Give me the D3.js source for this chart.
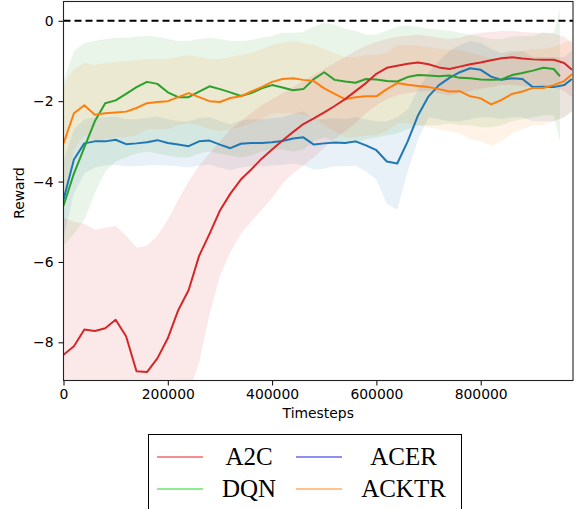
<!DOCTYPE html>
<html>
<head>
<meta charset="utf-8">
<script src="https://cdn.jsdelivr.net/npm/d3@7"></script>
<style>
  body { margin: 0; background: #fff; }
  svg { display: block; }
  .tick text { font-family: "DejaVu Sans", sans-serif; font-size: 13.9px; fill: #000; }
  .tick line { stroke: #000; stroke-width: 1; }
</style>
</head>
<body>
<div id="chart"></div>
<script>
// timesteps shared by A2C, ACER, ACKTR
const timesteps = [0, 20000, 40000, 60000, 80000, 100000, 120000, 140000, 160000, 180000,
  200000, 220000, 240000, 260000, 280000, 300000, 320000, 340000, 360000, 380000,
  400000, 420000, 440000, 460000, 480000, 500000, 520000, 540000, 560000, 580000,
  600000, 620000, 640000, 660000, 680000, 700000, 720000, 740000, 760000, 780000,
  800000, 820000, 840000, 860000, 880000, 900000, 920000, 940000, 960000, 975000];
// DQN stops a little earlier
const dqnSteps = [0, 20000, 40000, 60000, 80000, 100000, 120000, 140000, 160000, 180000,
  200000, 220000, 240000, 260000, 280000, 300000, 320000, 340000, 360000, 380000,
  400000, 420000, 440000, 460000, 480000, 500000, 520000, 540000, 560000, 580000,
  600000, 620000, 640000, 660000, 680000, 700000, 720000, 740000, 760000, 780000,
  800000, 820000, 840000, 860000, 880000, 900000, 920000, 940000, 952000];

const a2cMean = [-8.31, -8.1, -7.68, -7.72, -7.65, -7.44, -7.85, -8.72, -8.74, -8.4,
  -7.9, -7.2, -6.7, -5.85, -5.3, -4.72, -4.3, -3.95, -3.7, -3.43,
  -3.2, -2.98, -2.77, -2.57, -2.43, -2.28, -2.12, -1.95, -1.75, -1.55,
  -1.32, -1.17, -1.12, -1.07, -1.04, -1.08, -1.16, -1.2, -1.14, -1.08,
  -1.04, -0.98, -0.93, -0.91, -0.94, -0.96, -0.97, -0.97, -1.05, -1.22];
const a2cLow = [-9.5, -9.5, -9.5, -9.5, -9.5, -9.5, -9.5, -9.5, -9.5, -9.5,
  -9.5, -9.5, -9.3, -8.5, -7.3, -6.35, -5.75, -5.3, -5.0, -4.7,
  -4.4, -4.05, -3.8, -3.6, -3.4, -3.15, -2.95, -2.75, -2.55, -2.3,
  -2.1, -1.95, -1.85, -1.8, -1.75, -1.75, -1.8, -1.85, -1.8, -1.75,
  -1.7, -1.65, -1.6, -1.6, -1.62, -1.65, -1.65, -1.65, -1.75, -1.9];
const a2cHigh = [-4.9, -5.0, -5.05, -5.2, -5.15, -5.1, -5.35, -5.65, -5.6, -5.35,
  -4.95, -4.45, -4.0, -3.6, -3.3, -3.0, -2.7, -2.5, -2.3, -2.1,
  -1.95, -1.8, -1.65, -1.5, -1.35, -1.2, -1.05, -0.9, -0.75, -0.62,
  -0.52, -0.45, -0.4, -0.38, -0.35, -0.38, -0.42, -0.45, -0.42, -0.35,
  -0.3, -0.28, -0.25, -0.25, -0.28, -0.3, -0.3, -0.32, -0.4, -0.55];

const acerMean = [-4.45, -3.45, -3.05, -3.0, -3.0, -2.96, -3.07, -3.05, -3.02, -2.97,
  -3.04, -3.08, -3.12, -3.0, -2.98, -3.08, -3.17, -3.06, -3.04, -3.04,
  -3.02, -2.99, -2.93, -2.9, -3.08, -3.05, -3.03, -3.04, -3.0, -3.1,
  -3.22, -3.5, -3.55, -3.0, -2.35, -1.88, -1.6, -1.42, -1.28, -1.18,
  -1.22, -1.39, -1.47, -1.43, -1.45, -1.65, -1.64, -1.65, -1.6, -1.45];
const acerLow = [-5.4, -4.3, -3.8, -3.65, -3.6, -3.58, -3.62, -3.62, -3.6, -3.58,
  -3.6, -3.62, -3.65, -3.6, -3.58, -3.65, -3.72, -3.65, -3.62, -3.62,
  -3.6, -3.58, -3.55, -3.6, -3.7, -3.68, -3.62, -3.62, -3.6, -3.75,
  -3.95, -4.55, -4.7, -3.75, -2.95, -2.4, -2.45, -2.5, -2.5, -2.45,
  -2.4, -2.4, -2.45, -2.4, -2.4, -2.5, -2.5, -2.5, -2.4, -2.25];
const acerHigh = [-3.5, -2.7, -2.45, -2.4, -2.4, -2.38, -2.45, -2.45, -2.42, -2.38,
  -2.45, -2.5, -2.5, -2.42, -2.4, -2.5, -2.58, -2.48, -2.45, -2.45,
  -2.42, -2.4, -2.32, -2.25, -2.45, -2.45, -2.42, -2.45, -2.4, -2.45,
  -2.5, -2.5, -2.4, -2.2, -1.7, -1.3, -1.0, -0.75, -0.6, -0.5,
  -0.55, -0.7, -0.8, -0.75, -0.75, -0.9, -0.9, -0.9, -0.9, -0.75];

const dqnMean = [-4.6, -3.8, -3.15, -2.5, -2.05, -1.98, -1.82, -1.65, -1.52, -1.57,
  -1.78, -1.9, -1.9, -1.76, -1.63, -1.7, -1.78, -1.87, -1.8, -1.68,
  -1.6, -1.66, -1.73, -1.7, -1.45, -1.28, -1.47, -1.51, -1.54, -1.45,
  -1.46, -1.5, -1.51, -1.4, -1.35, -1.36, -1.38, -1.36, -1.42, -1.43,
  -1.46, -1.47, -1.46, -1.35, -1.3, -1.24, -1.17, -1.2, -1.38];
const dqnLow = [-5.6, -5.3, -4.95, -4.3, -3.75, -3.5, -3.4, -3.3, -3.25, -3.3,
  -3.35, -3.4, -3.4, -3.3, -3.25, -3.3, -3.35, -3.4, -3.35, -3.25,
  -3.2, -3.2, -3.25, -3.2, -3.0, -2.9, -3.0, -3.05, -3.05, -2.95,
  -2.9, -2.85, -2.8, -2.7, -2.6, -2.6, -2.6, -2.55, -2.6, -2.6,
  -2.65, -2.65, -2.6, -2.5, -2.45, -2.4, -2.35, -2.35, -3.0];
const dqnHigh = [-1.5, -0.75, -0.55, -0.5, -0.45, -0.42, -0.42, -0.4, -0.38, -0.4,
  -0.45, -0.5, -0.5, -0.45, -0.42, -0.45, -0.5, -0.5, -0.48, -0.42,
  -0.38, -0.3, -0.3, -0.28, -0.15, -0.05, -0.1, -0.2, -0.25, -0.35,
  -0.35, -0.25, -0.15, -0.12, -0.15, -0.2, -0.22, -0.25, -0.3, -0.35,
  -0.4, -0.45, -0.45, -0.4, -0.38, -0.38, -0.3, -0.3, 0.3];

const acktrMean = [-3.05, -2.3, -2.1, -2.34, -2.3, -2.28, -2.26, -2.17, -2.05, -2.02,
  -2.0, -1.9, -1.8, -1.9, -2.0, -2.02, -1.92, -1.88, -1.76, -1.65,
  -1.52, -1.45, -1.43, -1.47, -1.5, -1.68, -1.82, -1.95, -1.9, -1.88,
  -1.88, -1.7, -1.55, -1.59, -1.62, -1.65, -1.7, -1.76, -1.75, -1.88,
  -1.93, -2.08, -1.97, -1.82, -1.76, -1.67, -1.67, -1.6, -1.5, -1.33];
const acktrLow = [-4.55, -3.2, -2.85, -3.0, -2.95, -2.9, -2.9, -2.85, -2.7, -2.7,
  -2.7, -2.6, -2.55, -2.6, -2.7, -2.75, -2.7, -2.65, -2.55, -2.45,
  -2.3, -2.3, -2.3, -2.35, -2.4, -2.6, -2.75, -2.9, -2.9, -2.85,
  -2.85, -2.75, -2.55, -2.55, -2.6, -2.65, -2.7, -2.75, -2.8, -2.95,
  -3.0, -3.1, -3.0, -2.8, -2.7, -2.6, -2.6, -2.5, -2.4, -2.25];
const acktrHigh = [-1.6, -1.2, -1.05, -1.1, -1.05, -1.02, -1.0, -0.98, -0.95, -0.95,
  -0.95, -0.9, -0.85, -0.9, -0.95, -0.95, -0.9, -0.85, -0.8, -0.7,
  -0.6, -0.55, -0.5, -0.55, -0.6, -0.7, -0.8, -0.9, -0.9, -0.85,
  -0.85, -0.8, -0.6, -0.6, -0.62, -0.65, -0.7, -0.72, -0.72, -0.8,
  -0.85, -0.95, -0.9, -0.8, -0.75, -0.7, -0.7, -0.65, -0.55, -0.45];

const xTicks = [0, 200000, 400000, 600000, 800000];
const yTicks = [0, -2, -4, -6, -8];
const legendNames = ["A2C", "ACER", "DQN", "ACKTR"];

// series table built from the arrays above (drawn back to front)
const series = [
  { name: "ACER", steps: timesteps, mean: acerMean, low: acerLow, high: acerHigh, color: "#1f77b4" },
  { name: "DQN", steps: dqnSteps, mean: dqnMean, low: dqnLow, high: dqnHigh, color: "#2ca02c" },
  { name: "ACKTR", steps: timesteps, mean: acktrMean, low: acktrLow, high: acktrHigh, color: "#ff7f0e" },
  { name: "A2C", steps: timesteps, mean: a2cMean, low: a2cLow, high: a2cHigh, color: "#d62728" }
];
const legendColors = { A2C: "#f26a6a", ACER: "#6868f2", DQN: "#6ae66a", ACKTR: "#ffae66" };

const W = 579, H = 509;
const plot = { left: 63.5, right: 573, top: 1.5, bottom: 380.5 };

const svg = d3.select("#chart").append("svg")
  .attr("width", W)
  .attr("height", H);

const x = d3.scaleLinear().domain([0, 977000]).range([plot.left, plot.right]);
const y = d3.scaleLinear().domain([-8.95, 0.48]).range([plot.bottom, plot.top]);

svg.append("clipPath").attr("id", "clip")
  .append("rect")
  .attr("x", plot.left).attr("y", plot.top)
  .attr("width", plot.right - plot.left).attr("height", plot.bottom - plot.top);

const g = svg.append("g").attr("clip-path", "url(#clip)");

// shaded bands first
series.forEach(s => {
  const pts = s.steps.map((t, i) => ({ t, lo: s.low[i], hi: s.high[i] }));
  g.append("path")
    .datum(pts)
    .attr("fill", s.color)
    .attr("fill-opacity", 0.1)
    .attr("d", d3.area().x(d => x(d.t)).y0(d => y(d.lo)).y1(d => y(d.hi)));
});

// mean lines
series.forEach(s => {
  const pts = s.steps.map((t, i) => ({ t, v: s.mean[i] }));
  g.append("path")
    .datum(pts)
    .attr("fill", "none")
    .attr("stroke", s.color)
    .attr("stroke-width", 2)
    .attr("stroke-linejoin", "round")
    .attr("d", d3.line().x(d => x(d.t)).y(d => y(d.v)));
});

// zero reference line
g.append("line")
  .attr("x1", plot.left).attr("x2", plot.right)
  .attr("y1", y(0)).attr("y2", y(0))
  .attr("stroke", "#000")
  .attr("stroke-width", 2)
  .attr("stroke-dasharray", "7,4");

// axes
svg.append("g")
  .attr("transform", `translate(0,${plot.bottom})`)
  .call(d3.axisBottom(x).tickValues(xTicks).tickFormat(d3.format("d")).tickSize(5).tickPadding(4))
  .call(a => a.select(".domain").remove());

svg.append("g")
  .attr("transform", `translate(${plot.left},0)`)
  .call(d3.axisLeft(y).tickValues(yTicks).tickFormat(d => d < 0 ? "\u2212" + Math.abs(d) : d).tickSize(5).tickPadding(5))
  .call(a => a.select(".domain").remove());

// frame
svg.append("rect")
  .attr("x", plot.left).attr("y", plot.top)
  .attr("width", plot.right - plot.left).attr("height", plot.bottom - plot.top)
  .attr("fill", "none")
  .attr("stroke", "#222")
  .attr("stroke-width", 1.1);

svg.append("text")
  .attr("x", (plot.left + plot.right) / 2)
  .attr("y", 418)
  .attr("text-anchor", "middle")
  .style("font-family", "DejaVu Sans, sans-serif")
  .style("font-size", "13.9px")
  .text("Timesteps");

svg.append("text")
  .attr("transform", "translate(24,193) rotate(-90)")
  .attr("text-anchor", "middle")
  .style("font-family", "DejaVu Sans, sans-serif")
  .style("font-size", "13.9px")
  .text("Reward");

// legend below the axes
const legend = svg.append("g");
legend.append("rect")
  .attr("x", 148.5).attr("y", 434.5)
  .attr("width", 313).attr("height", 90)
  .attr("fill", "#fff")
  .attr("stroke", "#000")
  .attr("stroke-width", 1);

legendNames.forEach((name, i) => {
  const col = i % 2, row = Math.floor(i / 2);
  const lx = 157 + col * 139;
  const ly = 457 + row * 32;
  legend.append("line")
    .attr("x1", lx).attr("x2", lx + 46)
    .attr("y1", ly).attr("y2", ly)
    .attr("stroke", legendColors[name])
    .attr("stroke-width", 1.5);
  legend.append("text")
    .attr("x", 249 + col * 154.5)
    .attr("y", ly + 8)
    .attr("text-anchor", "middle")
    .style("font-family", "Liberation Serif, serif")
    .style("font-size", "25px")
    .text(name);
});
</script>
</body>
</html>
